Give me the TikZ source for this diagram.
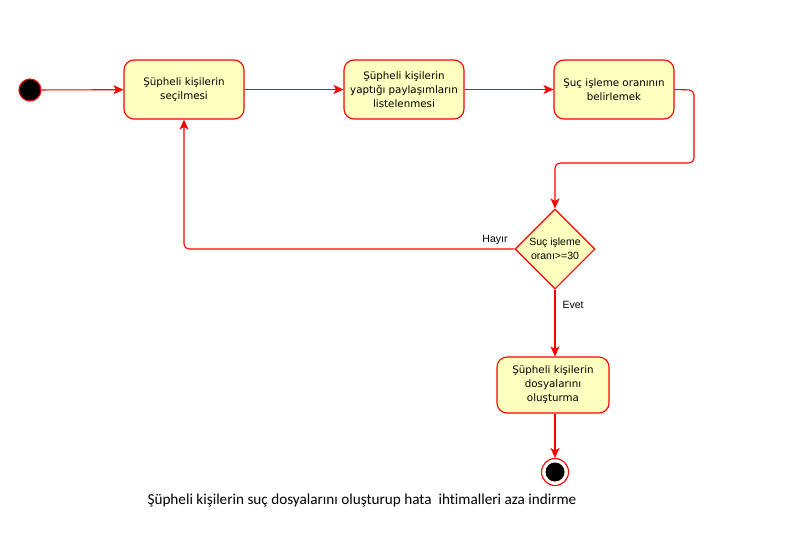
\documentclass[tikz,border=0pt]{standalone}
\usepackage{fontspec}
\setmainfont{DejaVu Sans}
\newfontfamily\arialf{Liberation Sans}
\newfontfamily\calf[Ligatures=CommonOff]{Carlito}
\usetikzlibrary{shapes.geometric,arrows.meta}
\definecolor{boxfill}{HTML}{FFFFC0}
\definecolor{lred}{HTML}{FF0000}
\begin{document}
\begin{tikzpicture}[x=1pt,y=-1pt,
  act/.style={draw=lred, fill=boxfill, rounded corners=10pt, minimum width=120pt,
    minimum height=59pt, align=center, inner sep=0pt, line width=1.1pt,
    font=\fontsize{10.3}{14}\selectfont},
  dec/.style={draw=lred, fill=boxfill, shape=diamond, aspect=1, minimum size=80pt,
    inner sep=0pt, align=center, line width=1.1pt, font=\arialf\fontsize{10.5}{14}\selectfont},
  conn/.style={draw=lred, line width=1.1pt, rounded corners=5pt,
    -{Stealth[length=10pt,width=9pt,inset=2.5pt]}},
  lbl/.style={font=\arialf\fontsize{10.5}{12}\selectfont, inner sep=0pt}
]
\useasboundingbox (0,0) rectangle (800,549);
\node[circle, draw=lred, fill=black, minimum size=22pt, inner sep=0pt, line width=1.1pt] (s) at (30,90) {};
\node[act] (a1) at (184,89.5) {Şüpheli kişilerin\\seçilmesi};
\node[act] (a2) at (404,89.5) {Şüpheli kişilerin\\yaptığı paylaşımların\\listelenmesi};
\node[act] (a3) at (614,89.5) {Şuç işleme oranının\\belirlemek};
\node[dec] (d) at (555,249) {Suç işleme\\oranı>=30};
\node[act, minimum width=112pt, minimum height=56pt] (a4) at (553,385) {Şüpheli kişilerin\\dosyalarını\\oluşturma};
\node[circle, draw=lred, fill=white, minimum size=27pt, inner sep=0pt, line width=1.1pt] (e) at (555,472) {};
\node[circle, fill=black, minimum size=19pt, inner sep=0pt] (ei) at (555,472) {};
\coordinate (c1) at (694,90);
\coordinate (c2) at (694,163);
\coordinate (c3) at (555,163);
\coordinate (c4) at (184,249);
\draw[conn] (s) -- (a1);
\draw[conn] (a1) -- (a2);
\draw[conn] (a2) -- (a3);
\draw[conn] (a3.east) -- (c1) -- (c2) -- (c3) -- (d.north);
\draw[conn] (d.west) -- (c4) -- (a1.south);
\draw[conn] (d.south) -- (d.south |- a4.north);
\draw[conn] (e.north |- a4.south) -- (e.north);
\node[lbl] (h) at (495,240) {Hayır};
\node[lbl] (ev) at (573,305) {Evet};
\node[font=\calf\fontsize{15.2}{18}\selectfont, inner sep=0pt] (cap) at (362,500) {Şüpheli kişilerin suç dosyalarını oluşturup hata\ \ ihtimalleri aza indirme};
\end{tikzpicture}
\end{document}
